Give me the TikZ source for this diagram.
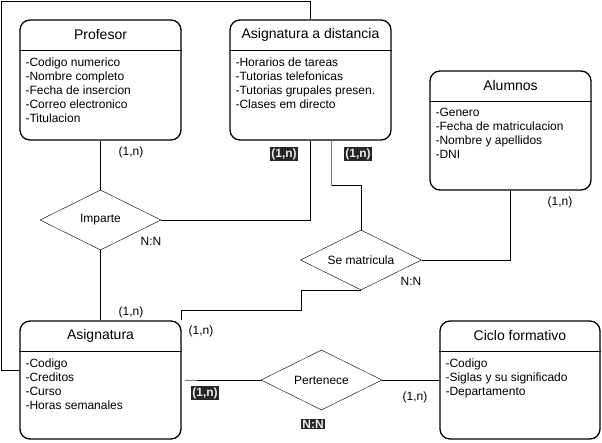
\documentclass[tikz,border=0pt]{standalone}
\usepackage{fontspec}
\setmainfont{Liberation Sans}
\usetikzlibrary{shapes.geometric, positioning}
\tikzset{
x=1pt, y=-1pt, % pixel units, y grows downwards
entity/.style={draw, line width=1.3pt, rounded corners=10pt, minimum width=161pt, minimum height=120pt, inner sep=0pt}, % an entity box
relation/.style={draw, diamond, aspect=2, minimum width=121pt, minimum height=60pt, inner sep=0pt, font=\fontsize{12}{14}\selectfont}, % a relation
title/.style={inner sep=0pt, font=\fontsize{14}{16}\selectfont}, % name of an entity
attrs/.style={anchor=north west, align=left, inner sep=0pt, font=\fontsize{12}{14}\selectfont}, % list of attributes
card/.style={inner sep=1pt, font=\fontsize{12}{14}\selectfont}, % cardinality
darkcard/.style={card, fill=black!85, text=white!92!black, font=\bfseries\fontsize{12}{14}\selectfont}, % highlighted cardinality
}

\begin{document}
\begin{tikzpicture}
\useasboundingbox (0,0) rectangle (602,442);
% entities
\node[entity] (prof) at (100.5,80) {};
\node[entity] (dist) at (310.5,80) {};
\node[entity, minimum height=119pt] (alum) at (510.5,130.5) {};
\node[entity, minimum height=118pt] (asig) at (100.5,380) {};
\node[entity, minimum width=160pt, minimum height=118pt] (ciclo) at (520,380) {};
\foreach \e/\t in {prof/Profesor, dist/Asignatura a distancia, alum/Alumnos, asig/Asignatura, ciclo/Ciclo formativo}{
  \draw[line width=1.3pt] ([yshift=-31pt]\e.north west) -- ([yshift=-31pt]\e.north east);
  \node[title] (\e-title) at ([yshift=-15.5pt]\e.north) {\t};
}
\node[attrs] (prof-attr) at ([shift={(6pt,-38pt)}]prof.north west) {-Codigo numerico\\-Nombre completo\\-Fecha de insercion\\-Correo electronico\\-Titulacion};
\node[attrs] (dist-attr) at ([shift={(6pt,-38pt)}]dist.north west) {-Horarios de tareas\\-Tutorias telefonicas\\-Tutorias grupales presen.\\-Clases em directo};
\node[attrs] (alum-attr) at ([shift={(6pt,-38pt)}]alum.north west) {-Genero\\-Fecha de matriculacion\\-Nombre y apellidos\\-DNI};
\node[attrs] (asig-attr) at ([shift={(6pt,-38pt)}]asig.north west) {-Codigo\\-Creditos\\-Curso\\-Horas semanales};
\node[attrs] (ciclo-attr) at ([shift={(6pt,-38pt)}]ciclo.north west) {-Codigo\\-Siglas y su significado\\-Departamento};

% relations
\node[relation] (imparte) at (100.5,220) {Imparte};
\node[relation] (matri) at (361,260) {Se matricula};
\node[relation] (perte) at (321.5,380) {Pertenece};

% connectors
\draw (prof.south) -- (imparte.north);
\draw (imparte.south) -- (asig.north);
\draw (imparte.east) -| (dist.south);
\draw[gray] ([xshift=21pt]dist.south) -- ++(0,45) coordinate (bendA);
\draw (bendA) -| (matri.north);
\draw (alum.south) |- (matri.east);
\draw (matri.south) -- ++(-60,0) -- ++(0,20) -| (asig.north east);
\draw ([yshift=10pt]asig.west) -- ++(-18,0) |- ([yshift=18pt]dist.north) -- (dist.north);
\draw[gray] ([xshift=3pt]asig.east) -- ++(12,0) coordinate (bendB);
\draw (bendB) -- (perte.west);
\draw (perte.east) -- (ciclo.west);

% cardinalities
\node[card] (c-prof) at (131,152) {(1,n)};
\node[card] (c-imp) at (131,312) {(1,n)};
\node[card] (nn-imp) at (151,241) {N:N};
\node[darkcard] (c-dist1) at (284,154) {(1,n)};
\node[darkcard] (c-dist2) at (358,154) {(1,n)};
\node[card] (c-alum) at (560,202) {(1,n)};
\node[card] (nn-matri) at (411,281) {N:N};
\node[card] (c-asig) at (201,331) {(1,n)};
\node[darkcard] (c-perte) at (205,393) {(1,n)};
\node[card] (c-ciclo) at (415,397) {(1,n)};
\node[darkcard] (nn-perte) at (313,424) {N:N};
\end{tikzpicture}
\end{document}
